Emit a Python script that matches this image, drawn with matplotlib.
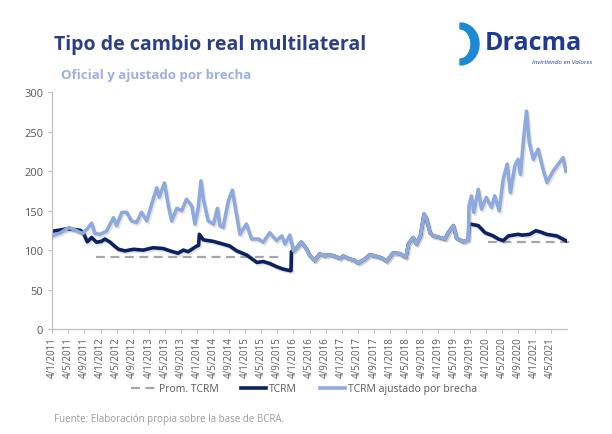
import matplotlib
matplotlib.use("Agg")
import numpy as np
import matplotlib.pyplot as plt
import matplotlib.patheffects as pe
from matplotlib.patches import Polygon

plt.rcParams["font.family"] = ["Open Sans", "DejaVu Sans"]

# meses desde enero 2011 (0 = 4/1/2011)
# TCRM oficial, tramo propio 2011-2015
tcrm_pre_x = [0, 1.5, 3.6, 5.5, 7.0, 7.7, 8.7, 9.8, 11.0, 12.2, 13.1, 14.4, 15.5, 16.5,
              18.1, 20.2, 22.6, 25.1, 27.6, 29.3, 31.3, 32.6, 33.8, 35.9, 36.4, 36.6,
              37.6, 40.1, 42.5, 44.2, 45.9, 48.4, 50.9, 52.5, 54.1, 55.8, 57.4, 59.1,
              59.4, 59.5]
tcrm_pre_y = [124, 125, 127, 126, 125, 122, 110.5, 116, 110, 111, 114, 110, 105, 101,
              99, 101, 100, 103, 102, 99, 96, 100, 98, 105, 106, 120,
              113, 111, 107.6, 105, 99, 93.7, 84.4, 85.5, 83, 79, 76, 74,
              74, 98]

# TCRM ajustado por brecha, tramo propio 2011-2015
ajus_pre_x = [0, 2.1, 4.1, 5.8, 7.5, 8.7, 9.8, 10.6, 11.9, 13.5, 15.2, 16, 17.3, 18.5,
              19.7, 21, 22.2, 23.5, 24.7, 26, 26.6, 27.9, 28.9, 29.7, 31, 32.2, 33.4,
              34.7, 35.5, 36.3, 37, 37.6, 38.8, 40.1, 41.1, 41.7, 42.5, 43.8, 44.8,
              45.4, 46.7, 48.3, 49.6, 51.3, 52.5, 54.1, 55.8, 57.1, 57.9, 59.1]
ajus_pre_y = [118, 122, 128.7, 125, 121, 127, 134, 121, 120, 124, 141, 131, 147.7, 148,
              137, 135, 148, 137, 158, 179, 167, 185, 156, 137, 153, 150, 164.5,
              156, 133, 153, 187.7, 164, 137, 133, 153, 131, 128.7, 162, 176,
              158, 120, 133, 114, 114, 110, 122, 112, 118, 107.6, 119]

# sin brecha (2016 - ago 2019): ambas series coinciden
comun_x = [60, 61, 62, 63.3, 64.1, 65.3, 66.5, 67.8, 69.1, 70.4, 71.6, 72.4, 74.1, 75.2,
           76.1, 77.6, 79, 80.7, 82, 83.2, 84.8, 86.5, 88, 88.6, 89.8, 90.6, 91.6, 92.5,
           93.1, 94, 94.8, 96.4, 97.7, 98.5, 99.8, 100.6, 102.3, 103.5]
comun_y = [99, 104, 110, 101, 93, 86.5, 95, 93, 94, 92, 89.5, 92.4, 88.6, 87,
           83.5, 88, 94, 92, 90, 85.7, 96.4, 95.5, 90.7, 107.6, 116, 107.6, 118, 145.6,
           140, 122, 118, 116, 114, 122, 131, 115, 110.5, 113]

# desde ago 2019
tcrm_post_x = [103.7, 104, 106, 107.7, 109.7, 111, 112.2, 113.5, 115.9, 117, 118.8,
               120.3, 121.5, 123, 125.5, 127.8]
tcrm_post_y = [133, 133, 131, 122, 118, 114, 112, 118, 120, 119, 120,
               124.5, 123, 120, 118, 112]
ajus_post_x = [103.7, 104.3, 104.9, 106, 106.8, 108, 109.3, 110.1, 111.2, 112.2, 113.2,
               114, 115.1, 115.9, 116.5, 117.3, 118, 118.7, 119.7, 120.9, 122.1, 123.1,
               124.6, 125.9, 127.1, 127.8]
ajus_post_y = [156, 168.7, 147.7, 177, 152, 166.7, 154, 168.7, 149.8, 190, 209,
               173, 207, 215, 196, 242.6, 276, 236, 215, 228, 202.5, 185.7,
               200, 209, 217, 200]

# promedios TCRM (dos tramos)
prom_x = [[10.9, 57.5], [108.5, 129.8]]
prom_y = [91.5, 109.7]

tick_labels = [f"4/{m}/{y}" for y in range(2011, 2022) for m in (1, 5, 9)][:32]

C_DARK = "#0b2160"
C_LIGHT = "#8eaadd"
C_GRAY = "#a6a6a6"
C_TXT = "#595959"

fig = plt.figure(figsize=(6.12, 4.35), dpi=100)
ax = fig.add_axes([52.3 / 612, 1 - 330 / 435, (566.7 - 52.3) / 612, (330 - 93.3) / 435])

shadow = [pe.SimpleLineShadow(offset=(1.0, -1.3), shadow_color="gray", alpha=0.22), pe.Normal()]

tx = tcrm_pre_x + comun_x + tcrm_post_x
ty = tcrm_pre_y + comun_y + tcrm_post_y
axx = ajus_pre_x + comun_x + ajus_post_x
axy = ajus_pre_y + comun_y + ajus_post_y

for xs, yv in zip(prom_x, prom_y):
    ax.plot(xs, [yv, yv], color=C_GRAY, lw=1.6, ls=(0, (4, 2.5)), clip_on=False, zorder=1)
ax.plot(tx, ty, color=C_DARK, lw=2.6, path_effects=shadow, zorder=2, solid_joinstyle="round")
ax.plot(axx, axy, color=C_LIGHT, lw=2.6, path_effects=shadow, zorder=3, solid_joinstyle="round")

ax.set_xlim(0, 128)
ax.set_ylim(0, 300)
ax.set_yticks(np.arange(0, 301, 50))
ax.set_xticks(np.arange(0, 125, 4))
ax.set_xticklabels(tick_labels, rotation=90, fontsize=7, color=C_TXT)
ax.tick_params(axis="y", labelsize=8, colors=C_TXT, length=3, color="#bfbfbf")
ax.tick_params(axis="x", length=3, color="#bfbfbf", pad=2)
for s in ("top", "right"):
    ax.spines[s].set_visible(False)
for s in ("left", "bottom"):
    ax.spines[s].set_color("#bfbfbf")
    ax.spines[s].set_linewidth(0.9)

h1, = ax.plot([], [], color=C_GRAY, lw=1.6, ls=(0, (4, 2.5)))
h2, = ax.plot([], [], color=C_DARK, lw=2.6)
h3, = ax.plot([], [], color=C_LIGHT, lw=2.6)
fig.legend([h1, h2, h3], ["Prom. TCRM", "TCRM", "TCRM ajustado por brecha"],
           loc="center", bbox_to_anchor=(304 / 612, 1 - 390 / 435), ncol=3, frameon=False,
           fontsize=7.5, labelcolor=C_TXT, handlelength=2.4, handletextpad=0.3,
           columnspacing=2.2)

fig.text(54 / 612, 1 - 45 / 435, "Tipo de cambio real multilateral", fontsize=14,
         fontweight="bold", color="#2b3e86", va="center")
fig.text(61 / 612, 1 - 76 / 435, "Oficial y ajustado por brecha", fontsize=9.5,
         fontweight="bold", color="#9cb1df", va="center")
fig.text(54 / 612, 1 - 420 / 435, "Fuente: Elaboración propia sobre la base de BCRA.",
         fontsize=7, color="#9a9a9a", va="center")

# logo: arco tipo "D" + texto
lx = fig.add_axes([455 / 612, 1 - 70 / 435, 140 / 612, 50 / 435])
lx.set_xlim(0, 140)
lx.set_ylim(0, 50)
lx.axis("off")
t = np.linspace(-np.pi / 2, np.pi / 2, 60)
outer = np.column_stack([5 + 19 * np.cos(t), 25 + 21 * np.sin(t)])
inner = np.column_stack([5 + 11 * np.cos(t[::-1]), 25 + 15 * np.sin(t[::-1])])
lx.add_patch(Polygon(np.vstack([outer, inner]), closed=True, color="#1b8ad3"))
lx.text(30, 27, "Dracma", fontsize=18, fontweight="bold", color="#1f3b8f", va="center")
lx.text(137, 7, "Invirtiendo en Valores", fontsize=4.5, style="italic", color="#1f3b8f",
        ha="right", va="center")

fig.savefig("out.png", dpi=100)
